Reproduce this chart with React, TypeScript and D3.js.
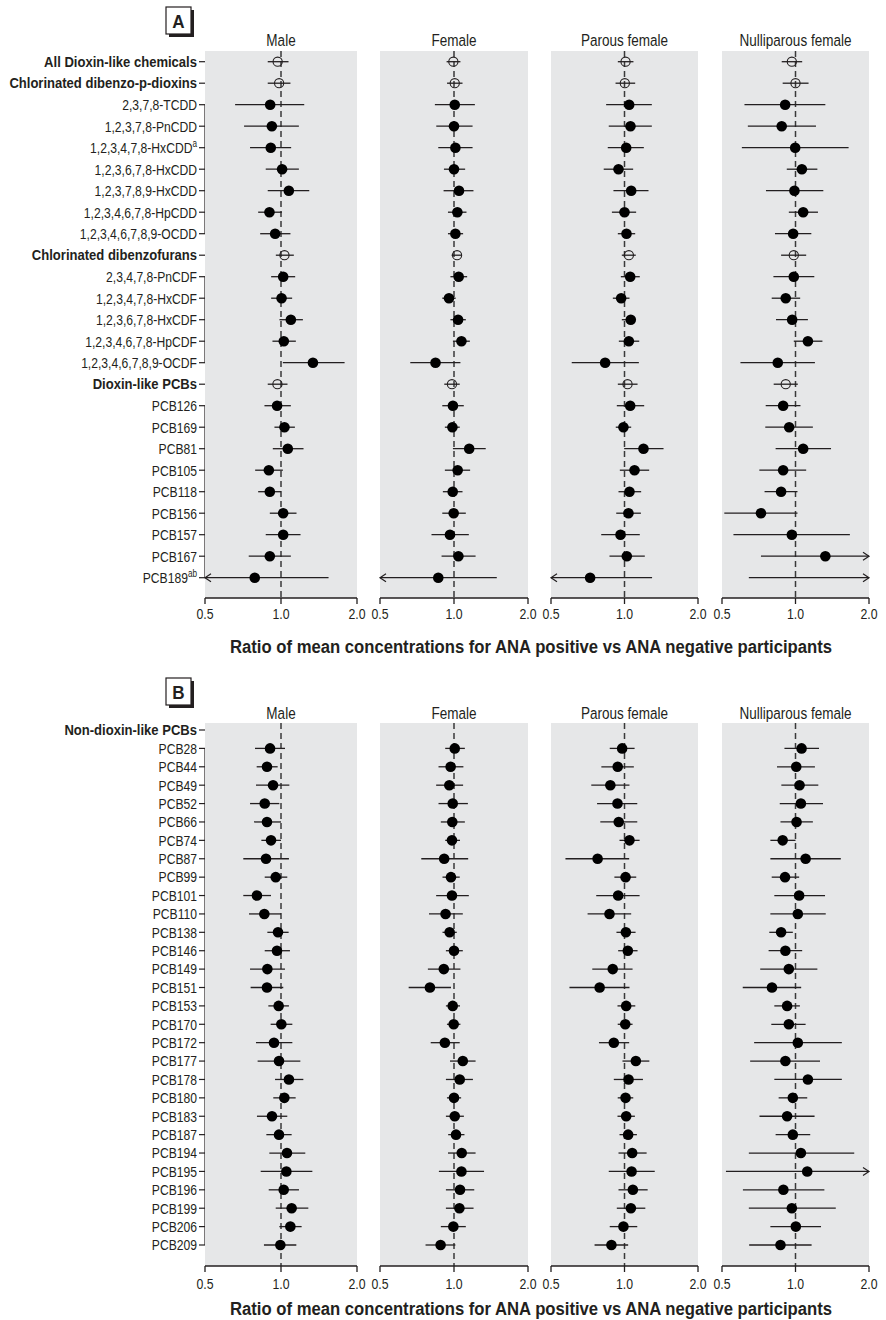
import React from 'react';
import * as d3 from 'd3';

const FONT = "'Liberation Sans', Arial, sans-serif";

const facets = ['Male', 'Female', 'Parous female', 'Nulliparous female'];
const tickValues = [0.5, 1, 2];
const tickLabels = ['0.5', '1.0', '2.0'];
const xTitle = 'Ratio of mean concentrations for ANA positive vs ANA negative participants';

// panel A rows
const labelsA = [
  'All Dioxin-like chemicals', 'Chlorinated dibenzo-p-dioxins', '2,3,7,8-TCDD', '1,2,3,7,8-PnCDD',
  '1,2,3,4,7,8-HxCDD', '1,2,3,6,7,8-HxCDD', '1,2,3,7,8,9-HxCDD', '1,2,3,4,6,7,8-HpCDD',
  '1,2,3,4,6,7,8,9-OCDD', 'Chlorinated dibenzofurans', '2,3,4,7,8-PnCDF', '1,2,3,4,7,8-HxCDF',
  '1,2,3,6,7,8-HxCDF', '1,2,3,4,6,7,8-HpCDF', '1,2,3,4,6,7,8,9-OCDF', 'Dioxin-like PCBs',
  'PCB126', 'PCB169', 'PCB81', 'PCB105', 'PCB118', 'PCB156', 'PCB157', 'PCB167', 'PCB189',
];
const supA = { 4: 'a', 24: 'ab' };
const groupRowsA = [0, 1, 9, 15];
const bracketsA = [[2, 8], [10, 14], [16, 24]];

// [estimate, lower, upper]
const maleA = [
  [0.97, 0.886, 1.071], [0.983, 0.886, 1.09], [0.906, 0.658, 1.236], [0.92, 0.714, 1.177],
  [0.911, 0.754, 1.097], [1.01, 0.87, 1.177], [1.074, 0.886, 1.294], [0.9, 0.812, 1.008],
  [0.948, 0.827, 1.09], [1.032, 0.954, 1.124], [1.02, 0.914, 1.138], [1.005, 0.914, 1.107],
  [1.094, 0.986, 1.221], [1.026, 0.925, 1.145], [1.338, 1.017, 1.786], [0.968, 0.886, 1.061],
  [0.965, 0.86, 1.094], [1.032, 0.942, 1.135], [1.064, 0.928, 1.228], [0.895, 0.79, 1.017],
  [0.903, 0.812, 1.0], [1.02, 0.903, 1.152], [1.02, 0.87, 1.195], [0.903, 0.745, 1.094],
  [0.787, 0.45, 1.543],
];
const femaleA = [
  [0.994, 0.933, 1.062], [1.007, 0.937, 1.083], [1.007, 0.836, 1.216], [1.0, 0.847, 1.19],
  [1.013, 0.863, 1.19], [1.0, 0.91, 1.11], [1.048, 0.907, 1.2], [1.032, 0.945, 1.124],
  [1.013, 0.945, 1.089], [1.029, 0.978, 1.072], [1.045, 0.967, 1.131], [0.954, 0.896, 1.016],
  [1.039, 0.967, 1.117], [1.072, 0.99, 1.16], [0.841, 0.664, 1.062], [0.981, 0.913, 1.055],
  [0.99, 0.896, 1.096], [0.985, 0.918, 1.055], [1.153, 0.99, 1.346], [1.035, 0.918, 1.163],
  [0.988, 0.901, 1.083], [0.997, 0.896, 1.117], [0.963, 0.81, 1.149], [1.042, 0.89, 1.224],
  [0.863, 0.45, 1.493],
];
const parousA = [
  [1.01, 0.939, 1.088], [1.003, 0.919, 1.106], [1.045, 0.841, 1.294], [1.058, 0.862, 1.294],
  [1.016, 0.854, 1.2], [0.945, 0.822, 1.085], [1.065, 0.901, 1.254], [1.0, 0.888, 1.116],
  [1.019, 0.939, 1.106], [1.042, 0.975, 1.112], [1.055, 0.966, 1.155], [0.969, 0.896, 1.048],
  [1.061, 0.975, 1.106], [1.042, 0.948, 1.149], [0.833, 0.608, 1.145], [1.029, 0.939, 1.131],
  [1.055, 0.93, 1.204], [0.99, 0.921, 1.065], [1.196, 0.997, 1.445], [1.099, 0.957, 1.262],
  [1.048, 0.945, 1.17], [1.038, 0.925, 1.167], [0.963, 0.803, 1.155], [1.022, 0.868, 1.211],
  [0.723, 0.45, 1.297],
];
const nulliA = [
  [0.966, 0.878, 1.065], [1.0, 0.886, 1.131], [0.907, 0.618, 1.325], [0.878, 0.638, 1.213],
  [0.997, 0.603, 1.65], [1.062, 0.921, 1.229], [0.99, 0.757, 1.3], [1.075, 0.939, 1.236],
  [0.978, 0.824, 1.161], [0.984, 0.873, 1.106], [0.984, 0.812, 1.194], [0.912, 0.799, 1.045],
  [0.969, 0.832, 1.124], [1.124, 0.984, 1.289], [0.846, 0.595, 1.201], [0.912, 0.814, 1.022],
  [0.89, 0.755, 1.048], [0.942, 0.752, 1.178], [1.075, 0.829, 1.398], [0.89, 0.711, 1.106],
  [0.873, 0.747, 1.019], [0.722, 0.511, 1.019], [0.966, 0.557, 1.67], [1.325, 0.722, 2.3],
  [null, 0.644, 2.3],
];

// panel B rows
const labelsB = [
  'Non-dioxin-like PCBs', 'PCB28', 'PCB44', 'PCB49', 'PCB52', 'PCB66', 'PCB74', 'PCB87', 'PCB99',
  'PCB101', 'PCB110', 'PCB138', 'PCB146', 'PCB149', 'PCB151', 'PCB153', 'PCB170', 'PCB172',
  'PCB177', 'PCB178', 'PCB180', 'PCB183', 'PCB187', 'PCB194', 'PCB195', 'PCB196', 'PCB199',
  'PCB206', 'PCB209',
];
const groupRowsB = [0];
const bracketsB = [[1, 28]];

const maleB = [
  [null, null, null], [0.905, 0.789, 1.037], [0.88, 0.801, 0.97], [0.93, 0.796, 1.079],
  [0.862, 0.754, 0.985], [0.88, 0.782, 1.0], [0.913, 0.836, 1.0], [0.872, 0.709, 1.075],
  [0.953, 0.862, 1.059], [0.803, 0.709, 0.913], [0.859, 0.747, 1.0], [0.973, 0.883, 1.072],
  [0.964, 0.862, 1.085], [0.883, 0.754, 1.037], [0.88, 0.758, 1.021], [0.979, 0.891, 1.075],
  [1.003, 0.91, 1.109], [0.938, 0.796, 1.109], [0.982, 0.808, 1.193], [1.075, 0.947, 1.226],
  [1.031, 0.932, 1.143], [0.921, 0.803, 1.059], [0.982, 0.875, 1.102], [1.056, 0.899, 1.248],
  [1.05, 0.831, 1.331], [1.025, 0.894, 1.178], [1.102, 0.953, 1.283], [1.089, 0.985, 1.207],
  [0.994, 0.856, 1.15],
];
const femaleB = [
  [null, null, null], [1.007, 0.921, 1.107], [0.969, 0.865, 1.092], [0.957, 0.846, 1.089],
  [0.988, 0.865, 1.139], [0.984, 0.884, 1.107], [0.981, 0.921, 1.058], [0.912, 0.736, 1.142],
  [0.972, 0.898, 1.055], [0.981, 0.846, 1.149], [0.924, 0.791, 1.086], [0.96, 0.898, 1.026],
  [1.0, 0.927, 1.086], [0.909, 0.783, 1.062], [0.798, 0.654, 0.972], [0.988, 0.927, 1.058],
  [0.997, 0.936, 1.062], [0.918, 0.804, 1.055], [1.086, 0.963, 1.224], [1.055, 0.927, 1.194],
  [1.0, 0.936, 1.069], [1.007, 0.927, 1.097], [1.019, 0.947, 1.103], [1.075, 0.945, 1.224],
  [1.072, 0.868, 1.325], [1.058, 0.927, 1.209], [1.052, 0.927, 1.201], [0.994, 0.884, 1.117],
  [0.882, 0.766, 1.013],
];
const parousB = [
  [null, null, null], [0.978, 0.87, 1.1], [0.938, 0.804, 1.092], [0.875, 0.731, 1.048],
  [0.936, 0.772, 1.128], [0.947, 0.796, 1.128], [1.048, 0.954, 1.153], [0.776, 0.573, 1.045],
  [1.01, 0.909, 1.117], [0.942, 0.766, 1.153], [0.868, 0.706, 1.065], [1.013, 0.927, 1.11],
  [1.032, 0.942, 1.131], [0.895, 0.738, 1.079], [0.791, 0.595, 1.048], [1.016, 0.936, 1.107],
  [1.007, 0.938, 1.079], [0.904, 0.786, 1.045], [1.113, 0.981, 1.264], [1.039, 0.904, 1.19],
  [1.01, 0.938, 1.086], [1.016, 0.936, 1.103], [1.035, 0.954, 1.124], [1.075, 0.945, 1.232],
  [1.069, 0.862, 1.33], [1.082, 0.945, 1.244], [1.062, 0.93, 1.217], [0.99, 0.87, 1.128],
  [0.884, 0.754, 1.035],
];
const nulliB = [
  [null, null, null], [1.059, 0.901, 1.248], [1.007, 0.84, 1.201], [1.039, 0.875, 1.24],
  [1.052, 0.862, 1.296], [1.01, 0.868, 1.178], [0.886, 0.789, 1.0], [1.1, 0.789, 1.533],
  [0.906, 0.799, 1.035], [1.035, 0.819, 1.321], [1.022, 0.789, 1.33], [0.873, 0.781, 0.975],
  [0.909, 0.776, 1.065], [0.939, 0.717, 1.229], [0.801, 0.608, 1.055], [0.924, 0.819, 1.042],
  [0.939, 0.796, 1.1], [1.022, 0.677, 1.548], [0.909, 0.652, 1.26], [1.124, 0.819, 1.548],
  [0.975, 0.853, 1.117], [0.924, 0.712, 1.197], [0.975, 0.829, 1.149], [1.052, 0.644, 1.74],
  [1.117, 0.519, 2.3], [0.892, 0.609, 1.313], [0.966, 0.644, 1.462], [1.003, 0.789, 1.272],
  [0.868, 0.646, 1.164],
];

const facetX = [[205, 357], [380, 528], [551, 698], [722, 869]];
const INK = '#231f20';
const BG = '#e6e7e8';

// condensed text: Liberation Sans squeezed horizontally
function T({ x, y, anchor = 'start', size = 14.5, bold = false, sx = 0.82, dy, children }) {
  return (
    <text transform={`translate(${x},${y}) scale(${sx},1)`} dy={dy} textAnchor={anchor}
      fontFamily={FONT} fontWeight={bold ? 'bold' : 'normal'} fontSize={size} fill={INK}>
      {children}
    </text>
  );
}

function Forest({ letter, boxY, titleY, top, axisY, first, last, labels, sup, groups, brackets, series, tickY, xTitleY }) {
  const y = d3.scalePoint().domain(d3.range(labels.length)).range([first, last]);
  return (
    <g>
      <rect x={169} y={boxY + 3} width={25} height={27} fill={INK} />
      <rect x={166} y={boxY} width={25} height={27} fill="#fff" stroke={INK} strokeWidth={1.2} />
      <T x={178.5} y={boxY + 20.5} anchor="middle" bold size={19} sx={0.9}>{letter}</T>

      {labels.map((lab, i) => {
        const g = groups.includes(i);
        return (
          <g key={lab}>
            <T x={197} y={y(i)} dy="0.36em" anchor="end" bold={g} size={g ? 14.5 : 14.8} sx={g ? 0.9 : 0.82}>
              {lab}
              {sup[i] ? <tspan fontSize={10} dy="-0.6em">{sup[i]}</tspan> : null}
            </T>
            <line x1={199} x2={205} y1={y(i)} y2={y(i)} stroke={INK} strokeWidth={1.2} />
          </g>
        );
      })}
      {brackets.map(([a, b]) => (
        <line key={a} x1={205} x2={205} y1={y(a)} y2={y(b)} stroke={INK} strokeWidth={1.2} />
      ))}

      {facets.map((name, f) => {
        const [x0, x1] = facetX[f];
        const x = d3.scaleLog().domain([0.5, 2]).range([x0, x1]);
        return (
          <g key={name}>
            <T x={(x0 + x1) / 2} y={titleY} anchor="middle" size={16.5}>{name}</T>
            <rect x={x0} y={top} width={x1 - x0} height={axisY - top} fill={BG} />
            <line x1={x(1)} x2={x(1)} y1={top} y2={axisY} stroke="#3a3a3a" strokeWidth={1.5} strokeDasharray="6,4" />
            {series[f].map(([est, lo, hi], i) => {
              if (lo == null) return null;
              const yy = y(i);
              const xl = x(Math.max(lo, 0.5));
              const xh = x(Math.min(hi, 2));
              const open = groups.includes(i);
              return (
                <g key={i}>
                  <line x1={xl} x2={xh} y1={yy} y2={yy} stroke={INK} strokeWidth={1.3} />
                  {lo < 0.5 ? <path d={`M${xl + 6},${yy - 4}L${xl},${yy}L${xl + 6},${yy + 4}`} fill="none" stroke={INK} strokeWidth={1.2} /> : null}
                  {hi > 2 ? <path d={`M${xh - 6},${yy - 4}L${xh},${yy}L${xh - 6},${yy + 4}`} fill="none" stroke={INK} strokeWidth={1.2} /> : null}
                  {est == null ? null : open
                    ? <circle cx={x(est)} cy={yy} r={4.6} fill="none" stroke={INK} strokeWidth={1.1} />
                    : <circle cx={x(est)} cy={yy} r={5.3} fill="#000" />}
                </g>
              );
            })}
            <line x1={x0} x2={x1} y1={axisY} y2={axisY} stroke={INK} strokeWidth={1.5} />
            {tickValues.map((t, k) => (
              <g key={t}>
                <line x1={x(t)} x2={x(t)} y1={axisY} y2={axisY + 6} stroke={INK} strokeWidth={1.3} />
                <T x={x(t)} y={tickY} anchor="middle" size={15}>{tickLabels[k]}</T>
              </g>
            ))}
          </g>
        );
      })}
      <text x={531} y={xTitleY} textAnchor="middle" fontFamily={FONT} fontWeight="bold" fontSize={18}
        textLength={602} lengthAdjust="spacingAndGlyphs" fill={INK}>{xTitle}</text>
    </g>
  );
}

export default function App() {
  return (
    <svg width={886} height={1320} style={{ position: 'absolute', left: 0, top: 0, background: '#fff' }}>
      <Forest letter="A" boxY={7} titleY={46} top={51} axisY={598} first={61.7} last={577.7}
        labels={labelsA} sup={supA} groups={groupRowsA} brackets={bracketsA}
        series={[maleA, femaleA, parousA, nulliA]} tickY={619} xTitleY={653} />
      <Forest letter="B" boxY={678} titleY={719} top={723} axisY={1266} first={730} last={1245}
        labels={labelsB} sup={{}} groups={groupRowsB} brackets={bracketsB}
        series={[maleB, femaleB, parousB, nulliB]} tickY={1289} xTitleY={1315} />
    </svg>
  );
}
